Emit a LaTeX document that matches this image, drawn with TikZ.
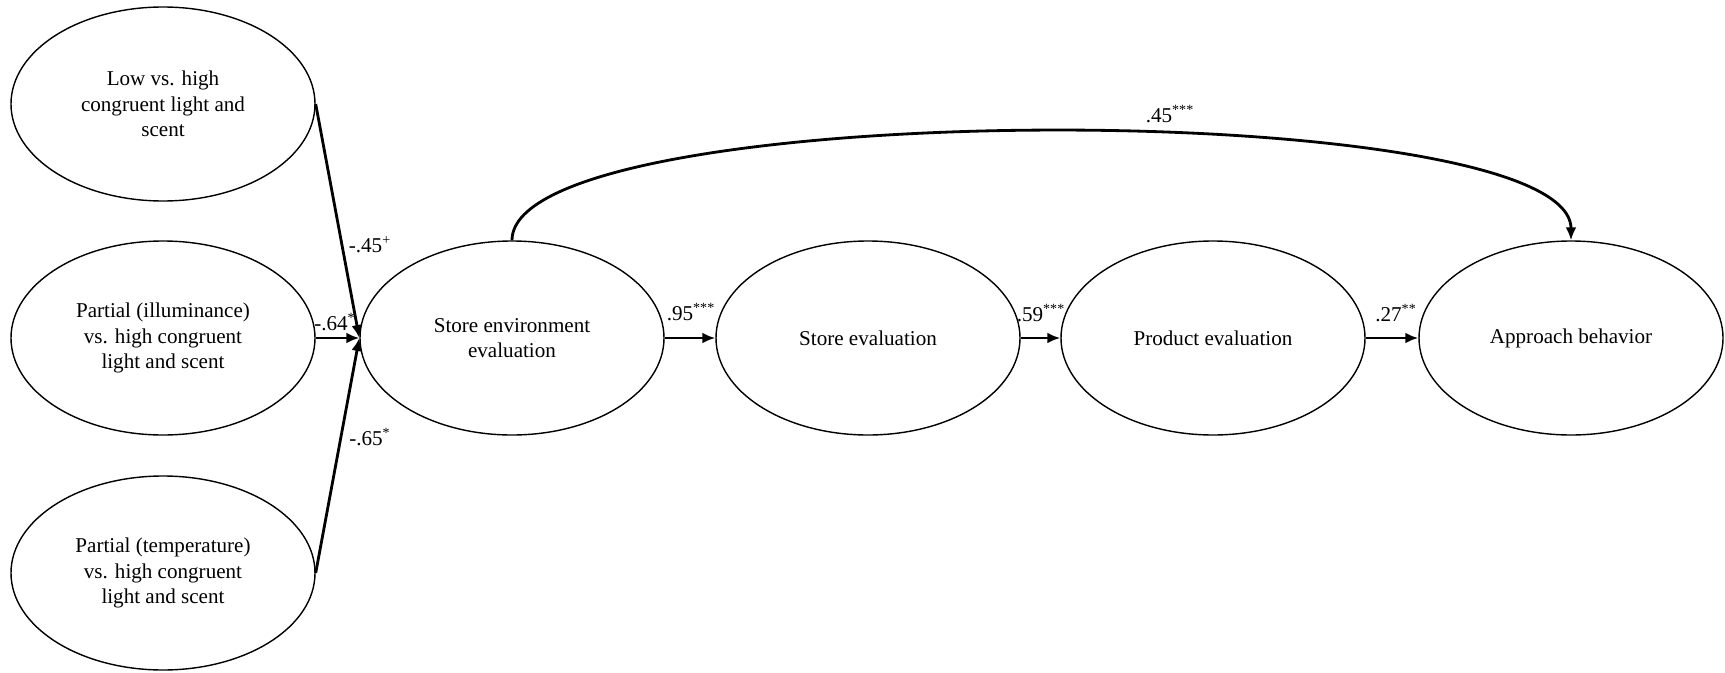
\documentclass[tikz,border=0pt]{standalone}
\usepackage{fontspec}
\setmainfont{Liberation Serif}
\usetikzlibrary{arrows.meta,shapes.geometric}

\begin{document}
\begin{tikzpicture}[
    font=\fontsize{12}{14.6}\selectfont,
    latent/.style={draw, ellipse, line width=0.8pt, minimum width=6.08cm, minimum height=3.88cm, inner sep=0pt, align=center},
    path/.style={line width=1.6pt, -{Latex[length=0.26cm,width=0.22cm]}},
    coef/.style={inner sep=0pt}
]
    \useasboundingbox (0,0) rectangle (34.5,13.44);
    % exogenous conditions
    \node[latent] (low)   at (3.26,11.36) {Low vs. high\\congruent light and\\scent};
    \node[latent] (illum) at (3.26,6.68)  {Partial (illuminance)\\vs. high congruent\\light and scent};
    \node[latent] (temp)  at (3.26,1.98)  {Partial (temperature)\\vs. high congruent\\light and scent};
    % mediators and outcome
    \node[latent] (env)   at (10.24,6.68) {Store environment\\evaluation};
    \node[latent] (store) at (17.36,6.68) {Store evaluation};
    \node[latent] (prod)  at (24.26,6.68) {Product evaluation};
    \node[latent] (appr)  at (31.42,6.68) {Approach behavior};

    \draw[path] (low.east) -- (env.west);
    \draw[path] (illum.east) -- (env.west);
    \draw[path] (temp.east) -- (env.west);
    \draw[path] (env.east) -- (store.west);
    \draw[path] (store.east) -- (prod.west);
    \draw[path] (prod.east) -- (appr.west);
    \draw[path] (env.north) .. controls +(0,2.9) and +(0,2.9) .. (appr.north);

    \node[coef] (b1) at (7.40,8.54)  {-.45\textsuperscript{+}};
    \node[coef] (b2) at (6.70,7.00)  {-.64\textsuperscript{*}};
    \node[coef] (b3) at (7.40,4.70)  {-.65\textsuperscript{*}};
    \node[coef] (b4) at (13.82,7.20) {.95\textsuperscript{***}};
    \node[coef] (b5) at (20.82,7.18) {.59\textsuperscript{***}};
    \node[coef] (b6) at (27.92,7.18) {.27\textsuperscript{**}};
    \node[coef] (b7) at (23.40,11.16) {.45\textsuperscript{***}};
\end{tikzpicture}
\end{document}
